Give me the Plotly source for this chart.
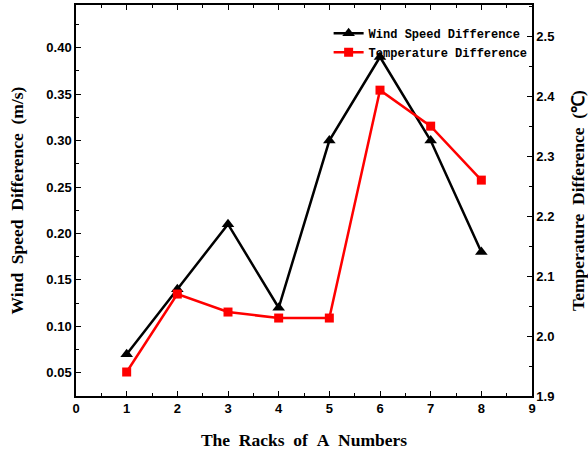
import plotly.graph_objects as go

racks = [1, 2, 3, 4, 5, 6, 7, 8]
wind_speed_diff = [0.07, 0.14, 0.21, 0.12, 0.30, 0.39, 0.30, 0.18]
temp_diff = [1.94, 2.07, 2.04, 2.03, 2.03, 2.41, 2.35, 2.26]

NB = "\u00a0"

fig = go.Figure()
fig.add_trace(go.Scatter(
    x=racks, y=wind_speed_diff, name="Wind Speed Difference",
    mode="lines+markers",
    line=dict(color="black", width=2.5),
    marker=dict(symbol="triangle-up", size=11, color="black"),
    yaxis="y",
))
fig.add_trace(go.Scatter(
    x=racks, y=temp_diff, name="Temperature Difference",
    mode="lines+markers",
    line=dict(color="#ff0000", width=2.5),
    marker=dict(symbol="square", size=9, color="#ff0000"),
    yaxis="y2",
))

tickfont = dict(family="Liberation Sans", size=13, color="black", weight="bold")
titlefont = dict(family="Liberation Serif", size=17.5, color="black", weight="bold")

fig.update_layout(
    width=588, height=456,
    margin=dict(l=76, r=56, t=5, b=60, autoexpand=False),
    paper_bgcolor="white", plot_bgcolor="white",
    showlegend=True,
    legend=dict(
        x=0.554, y=0.965, xanchor="left", yanchor="top",
        bgcolor="rgba(0,0,0,0)",
        font=dict(family="Liberation Mono", size=12, color="black", weight="bold"),
        tracegroupgap=0, itemwidth=30,
    ),
    xaxis=dict(
        range=[0, 9], dtick=1, tick0=0,
        showline=True, linecolor="black", linewidth=1.5, mirror="ticks",
        ticks="inside", ticklen=5, tickwidth=1, tickcolor="black",
        minor=dict(ticks="inside", ticklen=3, dtick=0.5, tickcolor="black"),
        showgrid=False, zeroline=False,
        tickfont=tickfont,
        title=dict(text=f"The{NB}{NB}Racks{NB}{NB}of{NB}{NB}A{NB}{NB}Numbers", font=titlefont, standoff=18),
    ),
    yaxis=dict(
        range=[0.025, 0.446], dtick=0.05, tick0=0, tickformat=".2f",
        showline=True, linecolor="black", linewidth=1.5,
        ticks="inside", ticklen=5, tickwidth=1, tickcolor="black",
        minor=dict(ticks="inside", ticklen=3, dtick=0.025, tickcolor="black"),
        showgrid=False, zeroline=False,
        tickfont=tickfont,
        title=dict(text=f"Wind{NB}{NB}Speed{NB}{NB}Difference{NB}{NB}(m/s)", font=titlefont, standoff=18),
    ),
    yaxis2=dict(
        range=[1.9, 2.552], dtick=0.1, tick0=1.9, tickformat=".1f",
        overlaying="y", side="right",
        showline=True, linecolor="black", linewidth=1.5,
        ticks="inside", ticklen=5, tickwidth=1, tickcolor="black",
        minor=dict(ticks="inside", ticklen=3, dtick=0.05, tickcolor="black"),
        showgrid=False, zeroline=False,
        tickfont=tickfont,
        title=dict(text=f"Temperature{NB}{NB}Difference{NB}{NB}(℃)", font=titlefont, standoff=18),
    ),
)

fig.write_html("out.html")
